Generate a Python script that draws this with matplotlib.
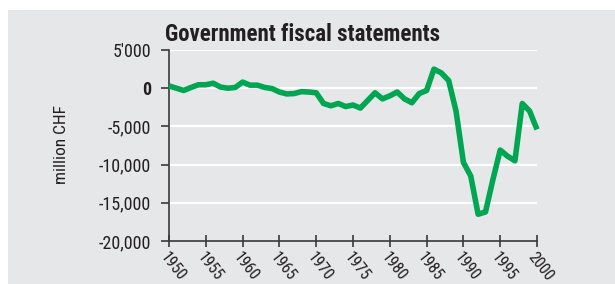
import matplotlib
matplotlib.use("Agg")
import matplotlib.pyplot as plt
from matplotlib import font_manager
from matplotlib.patches import Rectangle

# annual government fiscal balance, million CHF
years = list(range(1950, 2001))
balance = [
    300, 0, -300, 100, 450, 450, 650, 150, 0, 100,
    800, 400, 400, 100, -50, -500, -750, -700, -450, -500,
    -600, -2000, -2300, -2000, -2400, -2200, -2600, -1600, -600, -1400,
    -1000, -500, -1400, -1900, -700, -300, 2500, 2000, 1000, -3000,
    -9700, -11500, -16500, -16200, -12000, -8100, -8900, -9500, -2000, -3000,
    -5400,
]
yticks = [5000, 0, -5000, -10000, -15000, -20000]
ytick_labels = ["5'000", "0", "-5,000", "-10,000", "-15,000", "-20,000"]
xticks = list(range(1950, 2001, 5))

bg = "#e6e7e9"
green = "#00a651"
ink = "#231f20"

# pick a narrow face if there is one
names = {f.name for f in font_manager.fontManager.ttflist}
narrow = "DejaVu Sans"
for cand in ["Liberation Sans Narrow", "Roboto Condensed", "Open Sans Condensed",
             "DejaVu Sans Condensed"]:
    if cand in names:
        narrow = cand
        break
plt.rcParams["font.family"] = [narrow, "DejaVu Sans"]
plt.rcParams["font.stretch"] = "condensed"

fig = plt.figure(figsize=(6.15, 2.84), dpi=100)
fig.patches.append(Rectangle((8 / 615, 0), 1, 274 / 284, transform=fig.transFigure,
                             facecolor=bg, edgecolor="none", zorder=-5))

ax = fig.add_axes([169 / 615, 43 / 284, 368 / 615, 191 / 284])
ax.set_facecolor(bg)
ax.plot(years, balance, color=green, lw=4, solid_joinstyle="round",
        solid_capstyle="butt", zorder=3, clip_on=False)

ax.set_xlim(1950, 2000)
ax.set_ylim(-20000, 5000)
ax.set_yticks(yticks)
ax.set_yticklabels(ytick_labels, fontsize=13, color=ink)
ax.get_yticklabels()[1].set_fontweight("bold")
ax.set_xticks(xticks)
ax.set_xticklabels([str(x) for x in xticks], fontsize=11.5, color=ink,
                   rotation=-52, ha="left", va="top", rotation_mode="anchor")

for y in yticks[:-1]:
    ax.axhline(y, color="white", lw=1.6, zorder=1)

for s in ["top", "right"]:
    ax.spines[s].set_visible(False)
for s in ["left", "bottom"]:
    ax.spines[s].set_color("#3a3a3a")
    ax.spines[s].set_linewidth(1.2)
ax.tick_params(axis="y", direction="out", length=6, width=1.2, color="#3a3a3a", pad=7)
ax.tick_params(axis="x", direction="inout", length=9, width=1.2, color="#3a3a3a", pad=2)

fig.text(62 / 615, 1 - 145 / 284, "million CHF", rotation=90, fontsize=12.5,
         color=ink, ha="center", va="center")
fig.text(165 / 615, 1 - 41 / 284, "Government fiscal statements", fontsize=16.5,
         fontweight="bold", color=ink, ha="left", va="baseline")

fig.savefig("out.png", dpi=100)
